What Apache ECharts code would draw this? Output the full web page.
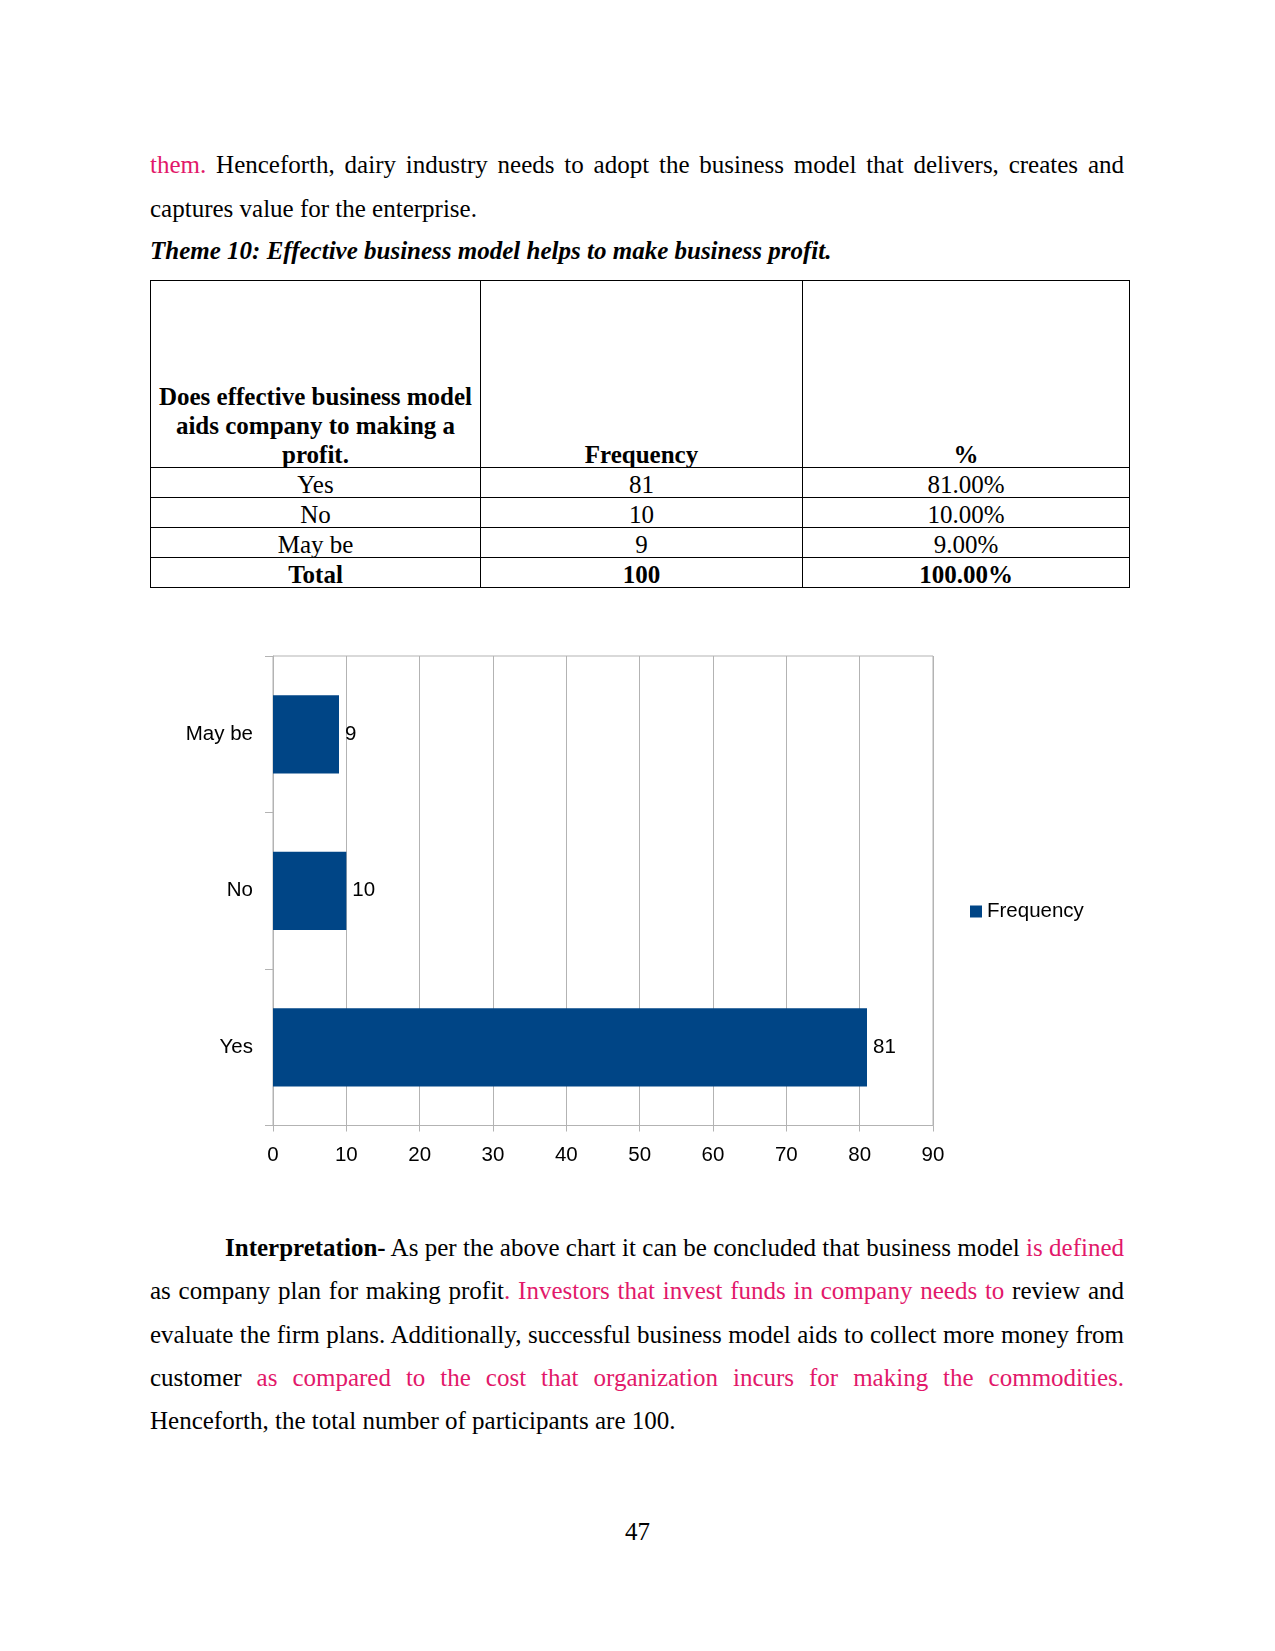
<!DOCTYPE html>
<html>
<head>
<meta charset="utf-8">
<script src="https://cdn.jsdelivr.net/npm/echarts@6/dist/echarts.min.js"></script>
<style>
  html, body { margin:0; padding:0; background:#fff; }
  body { width:1275px; height:1651px; position:relative; overflow:hidden; font-family:'Liberation Serif','Times New Roman',serif; color:#000; }
  .ln { position:absolute; left:150px; width:974px; font-size:25px; line-height:30px; white-space:nowrap; }
  .j { text-align:justify; text-align-last:justify; white-space:normal; }
  .pk { color:#e2186a; }
  table { position:absolute; left:150px; top:280px; width:979px; border-collapse:collapse; table-layout:fixed; font-size:25px; }
  td { border:1px solid #000; padding:0 4px; text-align:center; line-height:29px; height:28.5px; }
  td > span { position:relative; top:2px; }
  td.h { vertical-align:bottom; font-weight:bold; height:186px; }
  tr.t td { font-weight:bold; }
  #chart { position:absolute; left:0; top:600px; width:1275px; height:600px; }
</style>
</head>
<body>
<div class="ln j" style="top:150px;"><span class="pk">them.</span> Henceforth, dairy industry needs to adopt the business model that delivers, creates and</div>
<div class="ln" style="top:193.5px;">captures value for the enterprise.</div>
<div class="ln" style="top:235.6px;font-weight:bold;font-style:italic;">Theme 10: Effective business model helps to make business profit.</div>

<table>
  <colgroup><col style="width:330px"><col style="width:322px"><col style="width:327px"></colgroup>
  <tr><td class="h"><span>Does effective business model<br>aids company to making a<br>profit.</span></td><td class="h"><span>Frequency</span></td><td class="h"><span>%</span></td></tr>
  <tr><td><span>Yes</span></td><td><span>81</span></td><td><span>81.00%</span></td></tr>
  <tr><td><span>No</span></td><td><span>10</span></td><td><span>10.00%</span></td></tr>
  <tr><td><span>May be</span></td><td><span>9</span></td><td><span>9.00%</span></td></tr>
  <tr class="t"><td><span>Total</span></td><td><span>100</span></td><td><span>100.00%</span></td></tr>
</table>

<div id="chart"></div>

<div class="ln j" style="top:1233.2px;padding-left:75px;width:899px;"><b>Interpretation-</b> As per the above chart it can be concluded that business model <span class="pk">is defined</span></div>
<div class="ln j" style="top:1276.3px;">as company plan for making profit<span class="pk">. Investors that invest funds in company needs to</span> review and</div>
<div class="ln j" style="top:1319.5px;">evaluate the firm plans. Additionally, successful business model aids to collect more money from</div>
<div class="ln j" style="top:1362.6px;">customer <span class="pk">as compared to the cost that organization incurs for making the commodities.</span></div>
<div class="ln" style="top:1405.8px;">Henceforth, the total number of participants are 100.</div>

<div class="ln" style="top:1517px;left:0;width:1275px;text-align:center;">47</div>

<script>
const categories = ['Yes', 'No', 'May be'];
const frequency = [81, 10, 9];
const xTicks = [0, 10, 20, 30, 40, 50, 60, 70, 80, 90];
const seriesName = 'Frequency';

const grey = '#b3b3b3';
const fs = 20.5;
const chart = echarts.init(document.getElementById('chart'), null, { renderer: 'canvas' });
chart.setOption({
  animation: false,
  textStyle: { fontFamily: 'Liberation Sans, Arial, sans-serif' },
  grid: { left: 273, width: 660, top: 56, height: 469.5, show: true, borderColor: grey, borderWidth: 1, backgroundColor: 'transparent', containLabel: false },
  legend: {
    data: [seriesName], left: 965, top: 296, icon: 'rect', itemWidth: 12, itemHeight: 12,
    textStyle: { fontSize: fs, color: '#000', fontFamily: 'Liberation Sans, Arial, sans-serif' }
  },
  xAxis: {
    type: 'value', min: xTicks[0], max: xTicks[xTicks.length - 1], interval: xTicks[1] - xTicks[0],
    axisLine: { show: true, lineStyle: { color: grey } },
    axisTick: { show: true, length: 6, lineStyle: { color: grey } },
    splitLine: { show: true, lineStyle: { color: grey } },
    axisLabel: { fontSize: fs, color: '#000', margin: 19 }
  },
  yAxis: {
    type: 'category', data: categories,
    axisLine: { show: true, lineStyle: { color: grey } },
    axisTick: { show: true, length: 8, alignWithLabel: false, lineStyle: { color: grey } },
    splitLine: { show: false },
    axisLabel: { fontSize: fs, color: '#000', margin: 20, padding: [8, 0, 0, 0] }
  },
  series: [{
    name: seriesName, type: 'bar', data: frequency, barCategoryGap: '50%',
    itemStyle: { color: '#004586' },
    label: { show: true, position: 'right', distance: 6, fontSize: fs, color: '#000', padding: [7, 0, 0, 0] }
  }]
});
</script>
</body>
</html>
